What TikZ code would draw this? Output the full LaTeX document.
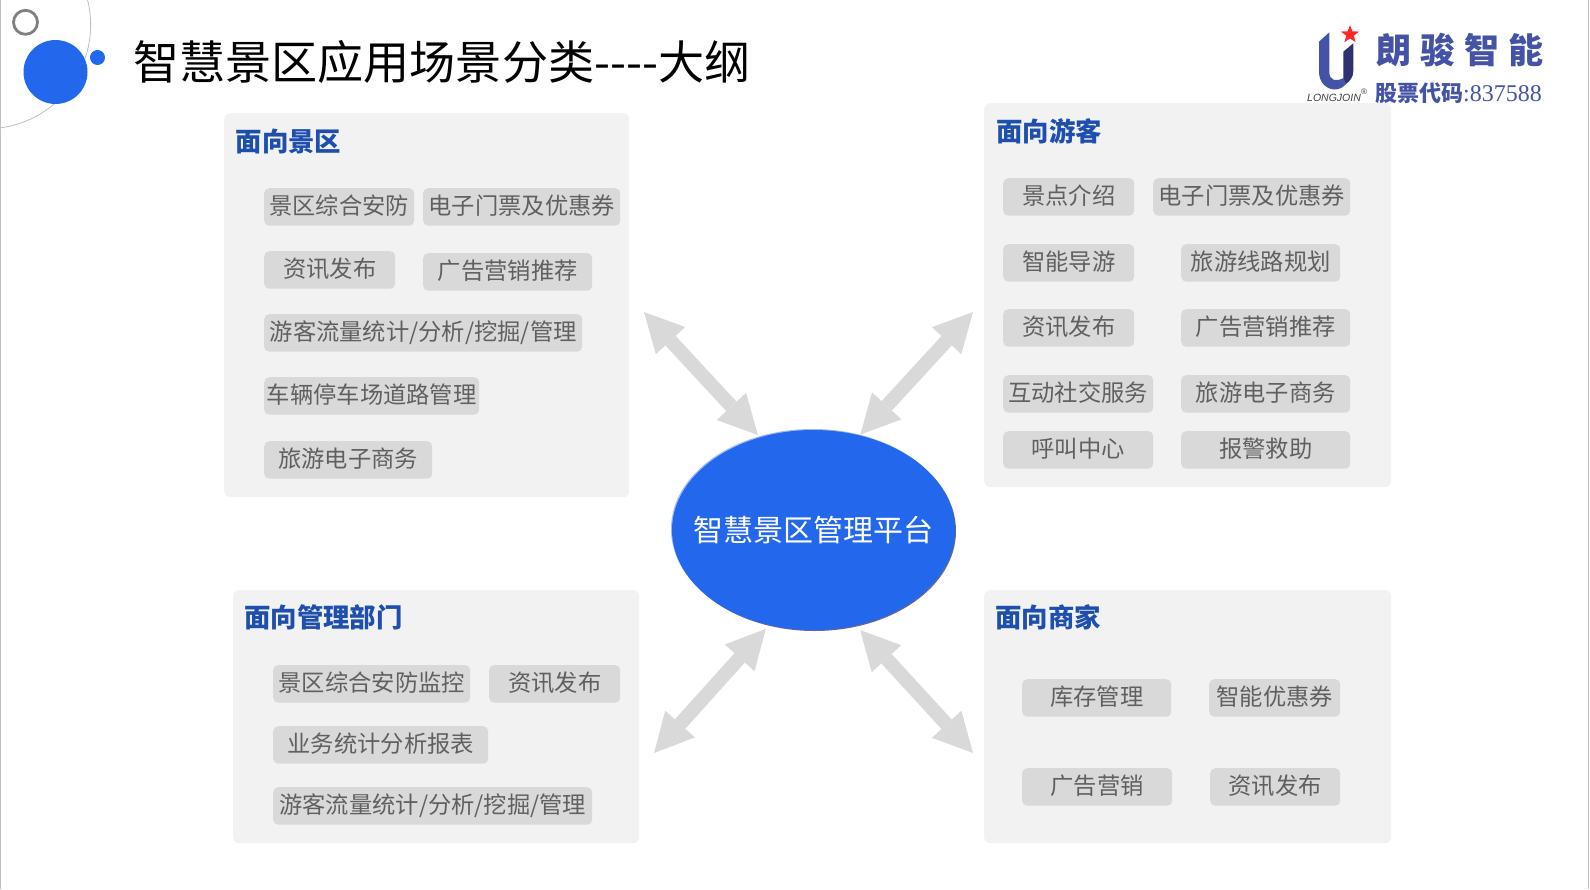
\documentclass[tikz,border=0pt]{standalone}
\usepackage{fontspec}
\setmainfont{Noto Sans CJK SC}
\newfontfamily\logodigits{Liberation Serif}
\newfontfamily\logolatin{Liberation Sans}
\usetikzlibrary{arrows.meta,shapes.geometric}
\definecolor{hubblue}{HTML}{2367EC}
\definecolor{headblue}{HTML}{1F4FAE}
\definecolor{panelgray}{HTML}{F2F2F2}
\definecolor{chipgray}{HTML}{D9D9D9}
\definecolor{chiptext}{HTML}{606060}
\definecolor{logoblue}{HTML}{4553A6}
\definecolor{logodark}{HTML}{2F3170}
\tikzset{
  panel/.style={anchor=north west,fill=panelgray,rounded corners=6pt,inner sep=0pt},
  paneltitle/.style={anchor=base west,inner sep=0pt,text=headblue,font=\fontsize{26.4}{26}\selectfont\bfseries},
  chip/.style={anchor=north west,fill=chipgray,rounded corners=5pt,inner sep=0pt,text=chiptext,
    minimum height=37.5pt,text height=20.5pt,text depth=6pt,font=\fontsize{23.3}{23}\selectfont},
  linkarrow/.style={draw=chipgray,line width=14pt,
    {Triangle[length=39pt,width=40pt,line width=0pt]}-{Triangle[length=39pt,width=40pt,line width=0pt]}}
}
\begin{document}
\begin{tikzpicture}[x=1pt,y=-1pt]
  \useasboundingbox (0,0) rectangle (1590,889);
  % frame and corner decoration
  \draw[line width=1.5pt,draw=black!25] (0.7,0) -- (0.7,889);
  \draw[line width=1.5pt,draw=black!25] (1588.7,0) -- (1588.7,889);
  \draw[line width=0.8pt,draw=black!25] (87.6,0) arc[start angle=13.9,end angle=-82.8,radius=103.8pt];
  \draw[line width=2.8pt,draw=black!50] (25.5,22.3) circle[radius=12pt];
  \fill[hubblue] (55.5,72) circle[radius=32pt];
  \fill[hubblue] (97.5,57.5) circle[radius=7.5pt];
  \node[anchor=base west,inner sep=0pt,font=\fontsize{46.1}{46}\selectfont] (pagetitle) at (133,79) {智慧景区应用场景分类-{}-{}-{}-大纲};

  % logo
  \fill[logodark] (1353.3,43.3) -- (1343.3,51.7) -- (1343.3,79) -- (1346,84) .. controls (1350,81) and (1353.3,77) .. (1353.3,71) -- cycle;
  \fill[logoblue] (1329.3,32.3) -- (1319,41.7) -- (1319,72) .. controls (1319,82) and (1326,89.5) .. (1335,89.5)
    .. controls (1339,89.5) and (1343,87.5) .. (1346,84) -- (1343.3,78) .. controls (1340,80) and (1337,80.3) .. (1334,80)
    .. controls (1331,79) and (1329.3,76) .. (1329.3,72) -- cycle;
  \node[star,star points=5,star point ratio=2.4,fill=red!85!white,minimum size=19pt,inner sep=0pt] (logostar) at (1350,34.5) {};
  \node[anchor=base west,inner sep=0pt,text=black!75,font=\logolatin\itshape\fontsize{10.5}{10}\selectfont] (logolatin) at (1307,101) {LONGJOIN};
  \node[anchor=base west,inner sep=0pt,text=black!75,font=\logolatin\fontsize{8}{8}\selectfont] (logoreg) at (1361,94) {®};
  \node[anchor=base west,inner sep=0pt,text=logoblue,font=\fontsize{35}{35}\selectfont\bfseries] (logoname) at (1376,63) {朗\kern9pt 骏\kern9pt 智\kern9pt 能};
  \node[anchor=base west,inner sep=0pt,text=logoblue,font=\fontsize{22}{22}\selectfont\bfseries] (logocode) at (1375,101) {股票代码{\logodigits\mdseries\fontsize{24}{24}\selectfont :837588}};

  % panels
  \node[panel,minimum width=405pt,minimum height=384pt] (spot) at (224,113) {};
  \node[panel,minimum width=407pt,minimum height=384pt] (guest) at (984,103) {};
  \node[panel,minimum width=406pt,minimum height=253pt] (dept) at (233,590) {};
  \node[panel,minimum width=407pt,minimum height=253pt] (shop) at (984,590) {};
  \node[paneltitle] (spottitle) at (235.5,151) {面向景区};
  \node[paneltitle] (guesttitle) at (996,141) {面向游客};
  \node[paneltitle] (depttitle) at (244,627) {面向管理部门};
  \node[paneltitle] (shoptitle) at (995,627) {面向商家};

  % chips of the scenic area panel
  \node[chip,minimum width=150pt] (s1) at (264,188) {景区综合安防};
  \node[chip,minimum width=197pt] (s2) at (423,188) {电子门票及优惠券};
  \node[chip,minimum width=131pt] (s3) at (264,251) {资讯发布};
  \node[chip,minimum width=169pt] (s4) at (423,253) {广告营销推荐};
  \node[chip,minimum width=318pt] (s5) at (264,314) {游客流量统计/分析/挖掘/管理};
  \node[chip,minimum width=215pt] (s6) at (264,377) {车辆停车场道路管理};
  \node[chip,minimum width=168pt] (s7) at (264,441) {旅游电子商务};

  % chips of the visitor panel
  \node[chip,minimum width=131pt] (g1) at (1003,178) {景点介绍};
  \node[chip,minimum width=197pt] (g2) at (1153,178) {电子门票及优惠券};
  \node[chip,minimum width=131pt] (g3) at (1003,244) {智能导游};
  \node[chip,minimum width=159pt] (g4) at (1181,244) {旅游线路规划};
  \node[chip,minimum width=131pt] (g5) at (1003,309) {资讯发布};
  \node[chip,minimum width=169pt] (g6) at (1181,309) {广告营销推荐};
  \node[chip,minimum width=150pt] (g7) at (1003,375) {互动社交服务};
  \node[chip,minimum width=169pt] (g8) at (1181,375) {旅游电子商务};
  \node[chip,minimum width=150pt] (g9) at (1003,431) {呼叫中心};
  \node[chip,minimum width=169pt] (g10) at (1181,431) {报警救助};

  % chips of the department panel
  \node[chip,minimum width=197pt] (d1) at (273,665) {景区综合安防监控};
  \node[chip,minimum width=131pt] (d2) at (489,665) {资讯发布};
  \node[chip,minimum width=215pt] (d3) at (273,726) {业务统计分析报表};
  \node[chip,minimum width=319pt] (d4) at (273,787) {游客流量统计/分析/挖掘/管理};

  % chips of the merchant panel
  \node[chip,minimum width=149pt] (m1) at (1022,679) {库存管理};
  \node[chip,minimum width=131pt] (m2) at (1209,679) {智能优惠券};
  \node[chip,minimum width=150pt] (m3) at (1022,768) {广告营销};
  \node[chip,minimum width=130pt] (m4) at (1210,768) {资讯发布};

  % hub with its bevel
  \fill[blue!30!black!60] (814.5,531) ellipse[x radius=141.5pt,y radius=100pt];
  \fill[hubblue!45!white] (812.5,529) ellipse[x radius=141.5pt,y radius=100pt];
  \node[ellipse,fill=hubblue,minimum width=283pt,minimum height=200pt,inner sep=0pt,inner xsep=-20pt,text=white,
    font=\fontsize{30}{30}\selectfont] (hub) at (813.5,530) {智慧景区管理平台};

  % arrows
  \coordinate (nwend) at (644,312);
  \coordinate (neend) at (973,312);
  \coordinate (swend) at (654,753);
  \coordinate (seend) at (973,753);
  \draw[linkarrow,shorten <=3pt] (hub.120) -- (nwend);
  \draw[linkarrow,shorten <=1pt] (hub.64) -- (neend);
  \draw[linkarrow,shorten <=5pt] (hub.245.5) -- (swend);
  \draw[linkarrow,shorten <=6pt] (hub.294.5) -- (seend);
\end{tikzpicture}
\end{document}
